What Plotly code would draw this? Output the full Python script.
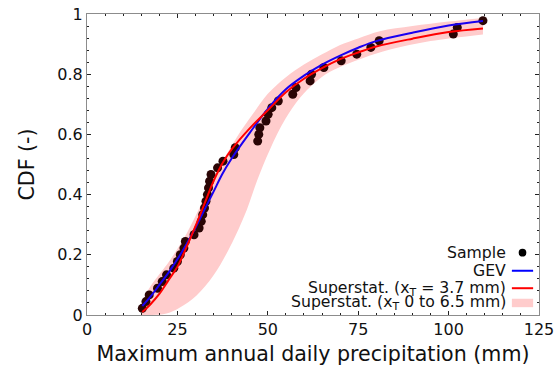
import plotly.graph_objects as go

# ---- data ----
sample_x = [15.3, 16.3, 17.2, 19.5, 20.8, 22.0, 24.0, 25.0, 25.8, 26.8, 27.2,
            29.6, 31.0, 31.6, 32.0, 32.5, 32.9, 33.3, 33.6, 33.9, 34.3, 36.1,
            37.6, 40.6, 41.0, 47.2, 47.5, 47.8, 49.5, 50.1, 51.1, 52.9, 56.9,
            57.8, 61.7, 62.1, 65.5, 70.3, 74.6, 78.5, 80.8, 101.3, 102.4, 109.5]
sample_cdf = [i / 45 for i in range(1, 45)]

gev_x = [15.3, 17.5, 20, 22.5, 25, 27.5, 30, 32.5, 35, 37.5, 40, 45, 50, 55,
         60, 65, 70, 75, 80, 90, 100, 109.5]
gev_cdf = [0.03, 0.06, 0.10, 0.14, 0.185, 0.235, 0.29, 0.35, 0.41, 0.47, 0.52,
           0.605, 0.685, 0.75, 0.795, 0.832, 0.862, 0.888, 0.91, 0.938, 0.962, 0.977]

ss_x = [15.3, 17.5, 20, 22.5, 25, 27.5, 30, 32.5, 35, 37.5, 40, 45, 50, 55,
        60, 65, 70, 75, 80, 90, 100, 109.5]
ss_cdf = [0.01, 0.035, 0.07, 0.115, 0.16, 0.225, 0.295, 0.37, 0.445, 0.505,
          0.55, 0.62, 0.68, 0.74, 0.785, 0.82, 0.85, 0.872, 0.892, 0.918, 0.94, 0.952]

band_up_x = [15, 17, 20, 23, 27.6, 32.2, 36.8, 41.4, 46, 50, 55, 60, 65, 70,
             75, 81, 90, 100, 109.5]
band_up_cdf = [0.035, 0.085, 0.135, 0.183, 0.272, 0.383, 0.494, 0.59, 0.67,
               0.735, 0.79, 0.832, 0.866, 0.897, 0.919, 0.943, 0.96, 0.975, 0.987]
band_lo_x = [15, 18, 22, 25.7, 30.3, 34.9, 39.5, 44.2, 47, 50.6, 54.8, 58.9,
             63, 67.2, 76.4, 83.8, 95, 109.5]
band_lo_cdf = [0.0, 0.0, 0.005, 0.025, 0.065, 0.13, 0.225, 0.35, 0.445, 0.55,
               0.65, 0.722, 0.772, 0.808, 0.854, 0.882, 0.91, 0.932]

x_ticks = [0, 25, 50, 75, 100, 125]
y_ticks = [0, 0.2, 0.4, 0.6, 0.8, 1]

legend_labels = ["Sample", "GEV", "Superstat. (x<sub>T</sub> = 3.7 mm)",
                 "Superstat. (x<sub>T</sub> 0 to 6.5 mm)"]

# ---- styles ----
PINK = "#ffcccc"
DOT = "#2a0505"
BLUE = "#1a00f0"
RED = "#ff0000"
FONT = "DejaVu Sans"

fig = go.Figure()

# band: lower edge (invisible) then upper edge filled to it
fig.add_trace(go.Scatter(
    x=band_lo_x, y=band_lo_cdf, mode="lines",
    line=dict(width=0, shape="spline", color=PINK),
    hoverinfo="skip", showlegend=False))
fig.add_trace(go.Scatter(
    x=band_up_x, y=band_up_cdf, mode="lines", fill="tonexty", fillcolor=PINK,
    line=dict(width=0, shape="spline", color=PINK),
    hoverinfo="skip", showlegend=False))

fig.add_trace(go.Scatter(
    x=sample_x, y=sample_cdf, mode="markers",
    marker=dict(size=9, color=DOT), showlegend=False))

fig.add_trace(go.Scatter(
    x=gev_x, y=gev_cdf, mode="lines",
    line=dict(color=BLUE, width=2, shape="spline"), showlegend=False))

fig.add_trace(go.Scatter(
    x=ss_x, y=ss_cdf, mode="lines",
    line=dict(color=RED, width=2, shape="spline"), showlegend=False))

axis_common = dict(
    showgrid=False, zeroline=False, showline=True, linecolor="#8c8c8c",
    linewidth=1, mirror="allticks", ticks="inside", ticklen=4,
    tickcolor="#222222", tickfont=dict(family=FONT, size=16, color="#111111"),
    automargin=False,
)

fig.update_xaxes(range=[0, 125], tickvals=x_ticks,
                 title=dict(text="Maximum annual daily precipitation (mm)",
                            font=dict(family=FONT, size=20.6, color="#111111"),
                            standoff=8),
                 minor=dict(ticks="inside", dtick=5, ticklen=2, tickcolor="#222222"),
                 **axis_common)
fig.update_yaxes(range=[0, 1], tickvals=y_ticks,
                 title=dict(text="CDF (-)",
                            font=dict(family=FONT, size=20.6, color="#111111"),
                            standoff=17),
                 minor=dict(ticks="inside", dtick=0.04, ticklen=2, tickcolor="#222222"),
                 **axis_common)

# legend drawn as right-aligned text with keys on the right
rows_y = [0.207, 0.147, 0.089, 0.040]
text_x = 0.931
for lab, yy in zip(legend_labels, rows_y):
    fig.add_annotation(x=text_x, y=yy, xref="paper", yref="paper",
                       text=lab, showarrow=False, xanchor="right", yanchor="middle",
                       font=dict(family=FONT, size=15.7, color="#111111"))
# keys
fig.add_shape(type="circle", xref="paper", yref="paper",
              x0=0.9635 - 0.0085, x1=0.9635 + 0.0085,
              y0=rows_y[0] - 0.0128, y1=rows_y[0] + 0.0128,
              fillcolor="black", line=dict(width=0))
fig.add_shape(type="line", xref="paper", yref="paper",
              x0=0.94, x1=0.987, y0=rows_y[1], y1=rows_y[1],
              line=dict(color="#0000ff", width=2))
fig.add_shape(type="line", xref="paper", yref="paper",
              x0=0.94, x1=0.987, y0=rows_y[2], y1=rows_y[2],
              line=dict(color=RED, width=2))
fig.add_shape(type="rect", xref="paper", yref="paper",
              x0=0.94, x1=0.987, y0=rows_y[3] - 0.014, y1=rows_y[3] + 0.014,
              fillcolor=PINK, line=dict(width=0))

fig.update_layout(
    width=557, height=380,
    margin=dict(l=87, r=18, t=14, b=65),
    paper_bgcolor="white", plot_bgcolor="white",
    font=dict(family=FONT),
)

fig.write_html("out.html")
